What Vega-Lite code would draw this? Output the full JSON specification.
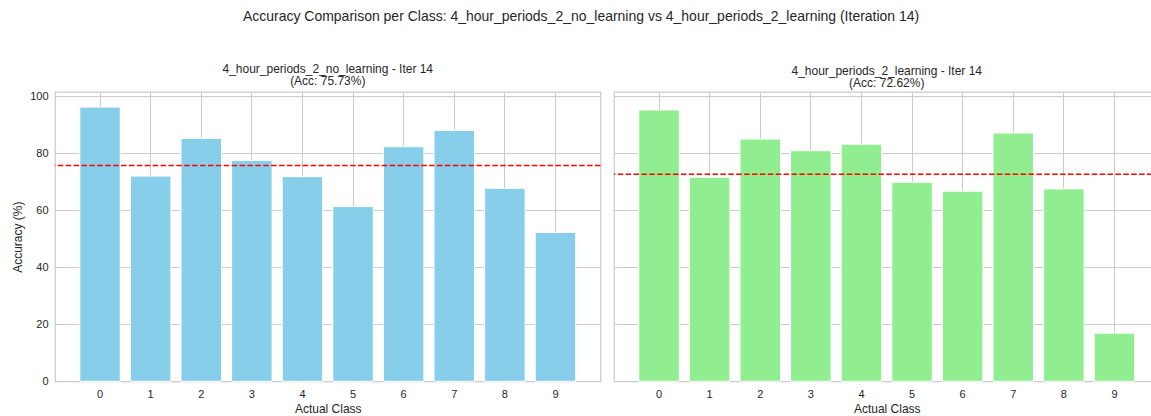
{
  "$schema": "https://vega.github.io/schema/vega-lite/v6.json",
  "autosize": {"type": "pad"},
  "padding": {"left": 11, "top": 9, "right": 0, "bottom": 0},
  "background": "white",
  "title": {
    "text": "Accuracy Comparison per Class: 4_hour_periods_2_no_learning vs 4_hour_periods_2_learning (Iteration 14)",
    "fontSize": 14,
    "font": "Liberation Sans",
    "fontWeight": "normal",
    "color": "#262626",
    "anchor": "middle",
    "dx": -4.5,
    "offset": 39
  },
  "datasets": {
    "no_learning": [
      {"cls": "0", "accuracy": 96.2},
      {"cls": "1", "accuracy": 72.0},
      {"cls": "2", "accuracy": 85.2},
      {"cls": "3", "accuracy": 77.5},
      {"cls": "4", "accuracy": 71.8},
      {"cls": "5", "accuracy": 61.3},
      {"cls": "6", "accuracy": 82.3},
      {"cls": "7", "accuracy": 88.0},
      {"cls": "8", "accuracy": 67.7},
      {"cls": "9", "accuracy": 52.2}
    ],
    "learning": [
      {"cls": "0", "accuracy": 95.2},
      {"cls": "1", "accuracy": 71.6},
      {"cls": "2", "accuracy": 85.0},
      {"cls": "3", "accuracy": 80.9},
      {"cls": "4", "accuracy": 83.2},
      {"cls": "5", "accuracy": 69.8},
      {"cls": "6", "accuracy": 66.7},
      {"cls": "7", "accuracy": 87.1},
      {"cls": "8", "accuracy": 67.5},
      {"cls": "9", "accuracy": 16.9}
    ],
    "overall_no_learning": [{"acc": 75.73}],
    "overall_learning": [{"acc": 72.62}]
  },
  "bounds": "flush",
  "spacing": 13,
  "hconcat": [
    {
      "title": {"text": ["4_hour_periods_2_no_learning - Iter 14", "(Acc: 75.73%)"]},
      "width": 545.5,
      "height": 289.3,
      "layer": [
        {
          "data": {"name": "no_learning"},
          "mark": {"type": "bar", "color": "#87CEEB", "stroke": "white", "strokeWidth": 1},
          "encoding": {
            "x": {
              "field": "cls", "type": "ordinal", "sort": null,
              "scale": {"paddingInner": 0.2, "paddingOuter": 0.49},
              "axis": {"title": "Actual Class"}
            },
            "y": {
              "field": "accuracy", "type": "quantitative",
              "scale": {"domain": [0, 101.5], "nice": false, "zero": true},
              "axis": {"title": "Accuracy (%)", "values": [0, 20, 40, 60, 80, 100]}
            }
          }
        },
        {
          "data": {"name": "overall_no_learning"},
          "mark": {"type": "rule", "color": "#ff0000", "strokeWidth": 1.5, "strokeDash": [5.5, 2.4]},
          "encoding": {"y": {"field": "acc", "type": "quantitative"}}
        }
      ]
    },
    {
      "title": {"text": ["4_hour_periods_2_learning - Iter 14", "(Acc: 72.62%)"], "dx": 3.5},
      "width": 538.5,
      "height": 289.3,
      "layer": [
        {
          "data": {"name": "learning"},
          "mark": {"type": "bar", "color": "#90EE90", "stroke": "white", "strokeWidth": 1},
          "encoding": {
            "x": {
              "field": "cls", "type": "ordinal", "sort": null,
              "scale": {"paddingInner": 0.2, "paddingOuter": 0.49, "range": [0, 545.5]},
              "axis": {"title": "Actual Class", "titleX": 272.75}
            },
            "y": {
              "field": "accuracy", "type": "quantitative",
              "scale": {"domain": [0, 101.5], "nice": false, "zero": true},
              "axis": {"title": null, "labels": false, "values": [0, 20, 40, 60, 80, 100]}
            }
          }
        },
        {
          "data": {"name": "overall_learning"},
          "mark": {"type": "rule", "color": "#ff0000", "strokeWidth": 1.5, "strokeDash": [5.5, 2.4]},
          "encoding": {"y": {"field": "acc", "type": "quantitative"}}
        }
      ]
    }
  ],
  "config": {
    "font": "Liberation Sans",
    "view": {"stroke": "#cccccc", "strokeWidth": 1.25},
    "title": {"fontSize": 12, "fontWeight": "normal", "color": "#262626", "anchor": "middle", "offset": 2, "lineHeight": 12},
    "axis": {
      "domain": false,
      "ticks": false,
      "grid": true,
      "gridColor": "#cccccc",
      "gridWidth": 1,
      "labelFontSize": 11,
      "labelColor": "#262626",
      "labelPadding": 7,
      "titleFontSize": 12,
      "titleFontWeight": "normal",
      "titleColor": "#262626"
    },
    "axisX": {"labelAngle": 0, "bandPosition": 0.5, "titlePadding": 4},
    "axisY": {"titlePadding": 5}
  }
}
